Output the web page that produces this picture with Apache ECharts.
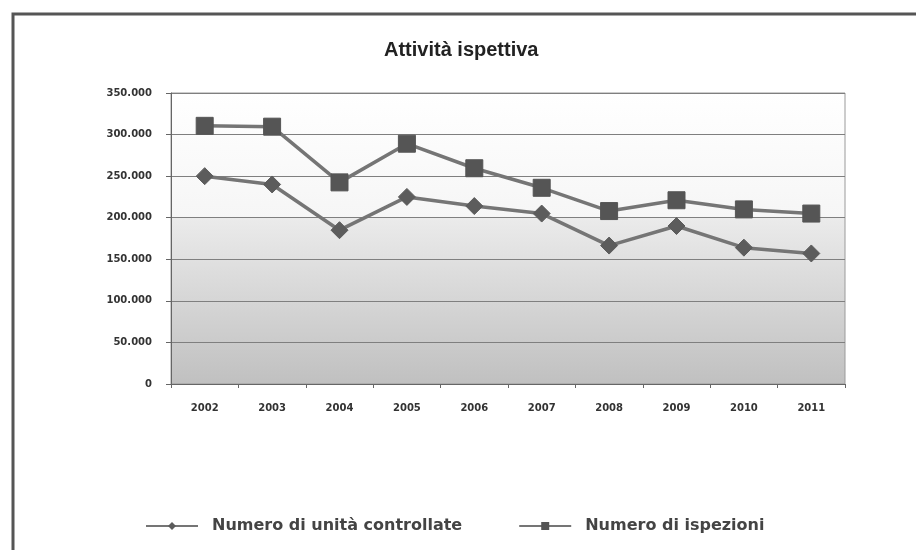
<!DOCTYPE html>
<html>
<head>
<meta charset="utf-8">
<title>Attività ispettiva</title>
<script src="https://cdn.jsdelivr.net/npm/echarts@6/dist/echarts.min.js"></script>
<style>
  html, body { margin: 0; padding: 0; background: #fff; }
  #main { width: 916px; height: 550px; }
</style>
</head>
<body>
<div id="main"></div>
<script>
var myChart = echarts.init(document.getElementById('main'));

// anni
var anni = ['2002', '2003', '2004', '2005', '2006', '2007', '2008', '2009', '2010', '2011'];
// Numero di unità controllate
var unitaControllate = [250000, 240000, 185000, 225000, 214000, 205000, 166500, 190000, 164000, 157000];
// Numero di ispezioni
var ispezioni = [310500, 309500, 242500, 289000, 259500, 236000, 208000, 221000, 210000, 205000];
// tacche asse y
var yMax = 350000;
var yStep = 50000;

// 350000 -> "350.000"
function formatMigliaia(v) {
    return String(v).replace(/\B(?=(\d{3})+(?!\d))/g, '.');
}

var fontAssi = {
    fontFamily: 'DejaVu Sans',
    fontSize: 10,
    fontWeight: 'bold',
    color: '#333'
};

myChart.setOption({
    backgroundColor: '#fff',
    animation: false,
    title: {
        text: 'Attività ispettiva',
        left: 379,
        top: 35,
        textStyle: {
            fontFamily: 'Liberation Sans',
            fontSize: 20,
            fontWeight: 'bold',
            color: '#222'
        }
    },
    graphic: [{
        // cornice esterna
        type: 'rect',
        shape: { x: 13, y: 14, width: 920, height: 560 },
        style: { fill: 'none', stroke: '#555', lineWidth: 3 },
        z: -1
    }],
    grid: {
        left: 171,
        right: 71,
        top: 93,
        bottom: 166,
        show: true,
        borderColor: '#9a9a9a',
        borderWidth: 1,
        backgroundColor: {
            type: 'linear', x: 0, y: 0, x2: 0, y2: 1,
            colorStops: [
                { offset: 0, color: '#ffffff' },
                { offset: 0.428, color: '#f6f6f6' },
                { offset: 0.43, color: '#ebebeb' },
                { offset: 1, color: '#c0c0c0' }
            ]
        }
    },
    legend: {
        left: 140,
        top: 513,
        itemWidth: 52,
        itemHeight: 10,
        itemGap: 56,
        textStyle: {
            fontFamily: 'DejaVu Sans',
            fontSize: 16,
            fontWeight: 'bold',
            color: '#444',
            padding: [0, 0, 0, 9]
        },
        data: ['Numero di unità controllate', 'Numero di ispezioni']
    },
    xAxis: {
        type: 'category',
        data: anni,
        boundaryGap: true,
        axisLine: { lineStyle: { color: '#666', width: 1 } },
        axisTick: { show: true, length: 4, lineStyle: { color: '#666' } },
        axisLabel: Object.assign({ margin: 19 }, fontAssi)
    },
    yAxis: {
        type: 'value',
        min: 0,
        max: yMax,
        interval: yStep,
        axisLine: { show: true, lineStyle: { color: '#666', width: 1 } },
        axisTick: { show: true, length: 5, lineStyle: { color: '#666' } },
        splitLine: { lineStyle: { color: '#7f7f7f', width: 1 } },
        axisLabel: Object.assign({ margin: 19, formatter: formatMigliaia }, fontAssi)
    },
    series: [
        {
            name: 'Numero di unità controllate',
            type: 'line',
            data: unitaControllate,
            symbol: 'diamond',
            symbolSize: 17,
            lineStyle: { color: '#757575', width: 3.5 },
            itemStyle: { color: '#5c5c5c', borderColor: '#5c5c5c' }
        },
        {
            name: 'Numero di ispezioni',
            type: 'line',
            data: ispezioni,
            symbol: 'rect',
            symbolSize: 17,
            lineStyle: { color: '#757575', width: 3.5 },
            itemStyle: { color: '#555555', borderColor: '#555555' }
        }
    ]
});
</script>
</body>
</html>
